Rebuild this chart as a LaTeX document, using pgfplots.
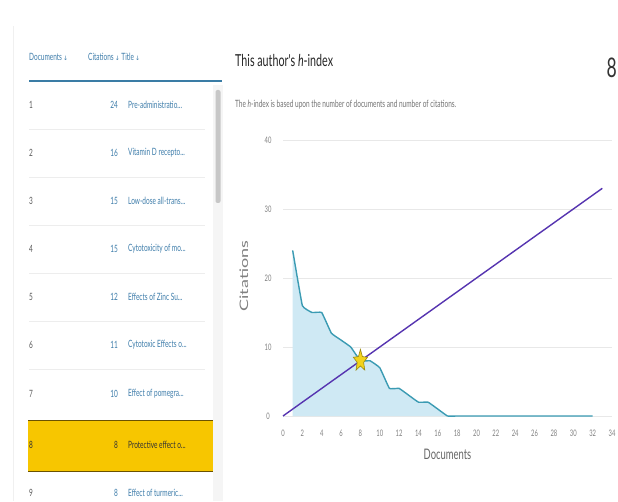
\documentclass[border=0pt]{standalone}
\usepackage{fontspec}
\setmainfont{Lato}
\newfontfamily\cond{Lato}[FakeStretch=0.65]
\newfontfamily\arr{DejaVu Sans}
\usepackage{graphicx}
\usepackage{pgfplots}
\pgfplotsset{compat=1.18}

\definecolor{linkblue}{HTML}{3E7DAA}
\definecolor{hdrline}{HTML}{3A7CA5}
\definecolor{hlyellow}{HTML}{F7C600}
\definecolor{hledge}{HTML}{6B5200}
\definecolor{areablue}{HTML}{CFE9F4}
\definecolor{curveblue}{HTML}{3B9BB3}
\definecolor{hline}{HTML}{5634B0}
\definecolor{staryel}{HTML}{F2D21B}
\definecolor{staredge}{HTML}{9A8A10}
\definecolor{gridgray}{HTML}{E8E8E8}
\definecolor{tickgray}{HTML}{808080}

\newcommand\fs[1]{\fontsize{#1}{#1}\selectfont}
\newcommand\dn{{\arr\fs{6}\,↓}}
\newcommand\el{...}

% squashed five point star for the h-index point
\pgfdeclareplotmark{hstar}{%
  \pgfpathmoveto{\pgfpoint{0pt}{\pgfplotmarksize}}%
  \pgfpathlineto{\pgfpoint{-0.172\pgfplotmarksize}{0.364\pgfplotmarksize}}%
  \pgfpathlineto{\pgfpoint{-0.618\pgfplotmarksize}{0.309\pgfplotmarksize}}%
  \pgfpathlineto{\pgfpoint{-0.278\pgfplotmarksize}{-0.139\pgfplotmarksize}}%
  \pgfpathlineto{\pgfpoint{-0.382\pgfplotmarksize}{-0.809\pgfplotmarksize}}%
  \pgfpathlineto{\pgfpoint{0pt}{-0.45\pgfplotmarksize}}%
  \pgfpathlineto{\pgfpoint{0.382\pgfplotmarksize}{-0.809\pgfplotmarksize}}%
  \pgfpathlineto{\pgfpoint{0.278\pgfplotmarksize}{-0.139\pgfplotmarksize}}%
  \pgfpathlineto{\pgfpoint{0.618\pgfplotmarksize}{0.309\pgfplotmarksize}}%
  \pgfpathlineto{\pgfpoint{0.172\pgfplotmarksize}{0.364\pgfplotmarksize}}%
  \pgfpathclose
  \pgfusepathqfillstroke}

\begin{document}
\begin{tikzpicture}[x=1pt,y=1pt]
\path[use as bounding box, fill=white] (0,0) rectangle (618,501);

% ---- left panel: document list
\draw[black!6] (13,0) -- (13,475);
\fill[black!4] (213,0) rectangle (223,416);
\fill[black!22, rounded corners=2pt] (215.5,298) rectangle (220.5,411);

\node[anchor=west, inner sep=0, text=linkblue, font=\cond\fs{10}] at (29,444) {Documents\dn};
\node[anchor=west, inner sep=0, text=linkblue, font=\cond\fs{10}] at (88,444) {Citations\dn\ Title\dn};
\draw[hdrline, line width=1.5pt] (29,420) -- (222,420);

\foreach \y in {372,324,276,228,180,132}
  \draw[black!7, line width=0.6pt] (29,\y) -- (205,\y);

\fill[hlyellow] (28,30) rectangle (213,81);
\draw[hledge, line width=0.8pt] (28,81) -- (213,81);
\draw[hledge, line width=0.8pt] (28,30) -- (213,30);

\foreach \n/\c/\t/\y in {1/24/Pre-administratio\el/396,
                         2/16/Vitamin D recepto\el/348,
                         3/15/Low-dose all-trans\el/300,
                         4/15/Cytotoxicity of mo\el/252,
                         5/12/Effects of Zinc Su\el/204,
                         6/11/Cytotoxic Effects o\el/156,
                         7/10/Effect of pomegra\el/107,
                         9/8/Effect of turmeric\el/8} {
  \node[anchor=west, inner sep=0, text=black!65, font=\cond\fs{10}] at (29,\y) {\n};
  \node[anchor=east, inner sep=0, text=linkblue, font=\cond\fs{10}] at (118,\y) {\c};
  \node[anchor=west, inner sep=0, text=linkblue, font=\cond\fs{10}] at (128,\y) {\t};
}
\node[anchor=west, inner sep=0, text=black!80, font=\cond\fs{10}] at (29,56) {8};
\node[anchor=east, inner sep=0, text=black!80, font=\cond\fs{10}] at (118,56) {8};
\node[anchor=west, inner sep=0, text=black!80, font=\cond\fs{10}] at (128,56) {Protective effect o\el};

% ---- right panel: headings
\node[anchor=west, inner sep=0, text=black!85, font=\cond\fs{16.5}] at (235,441) {This author's \textit{h}-index};
\node[anchor=west, inner sep=0, text=black!55, font=\cond\fs{10}] at (235,396) {The \textit{h}-index is based upon the number of documents and number of citations.};
\node[anchor=east, inner sep=0, text=black!80, font=\cond\fs{27}] at (617,433) {8};

\node[text=black!50, font=\fs{18}] at (244,225) {\rotatebox{90}{\scalebox{1}[0.65]{Citations}}};

\begin{axis}[
    at={(283pt,85pt)}, anchor=south west,
    scale only axis,
    width=329pt, height=276pt,
    xmin=0, xmax=34, ymin=0, ymax=40,
    xtick={0,2,...,34},
    ytick={0,10,20,30,40},
    axis line style={draw=none},
    major tick length=0pt,
    ymajorgrids,
    grid style={gridgray, line width=0.7pt},
    /pgf/number format/assume math mode=true,
    tick label style={font=\cond\fs{9}, text=tickgray},
    xticklabel style={anchor=center, yshift=-17pt},
    yticklabel style={anchor=center, xshift=-15pt},
    xlabel={Documents},
    xlabel style={font=\cond\fs{14.5}, text=black!60, at={(axis description cs:0.5,0)}, anchor=center, yshift=-38pt},
    clip=false,
]

% area under the citation curve
\addplot[fill=areablue, draw=none, smooth, tension=0.15] coordinates {
  (1,24) (2,16) (3,15) (4,15) (5,12) (6,11) (7,10) (8,8) (9,8) (10,7)
  (11,4) (12,4) (13,3) (14,2) (15,2) (16,1) (17,0) (18,0) (19,0) (20,0)
  (21,0) (22,0) (23,0) (24,0) (25,0) (26,0) (27,0) (28,0) (29,0) (30,0)
  (31,0) (32,0)
} \closedcycle;

% citations per document
\addplot[curveblue, line width=1.4pt, smooth, tension=0.15] coordinates {
  (1,24) (2,16) (3,15) (4,15) (5,12) (6,11) (7,10) (8,8) (9,8) (10,7)
  (11,4) (12,4) (13,3) (14,2) (15,2) (16,1) (17,0) (18,0) (19,0) (20,0)
  (21,0) (22,0) (23,0) (24,0) (25,0) (26,0) (27,0) (28,0) (29,0) (30,0)
  (31,0) (32,0)
};

% documents = citations
\addplot[hline, line width=1.4pt] coordinates {(0,0) (33,33)};

% h-index
\addplot[only marks, mark=hstar, mark size=11.5pt, fill=staryel, draw=staredge, line width=0.6pt]
  coordinates {(8,8)};

\end{axis}
\end{tikzpicture}
\end{document}
